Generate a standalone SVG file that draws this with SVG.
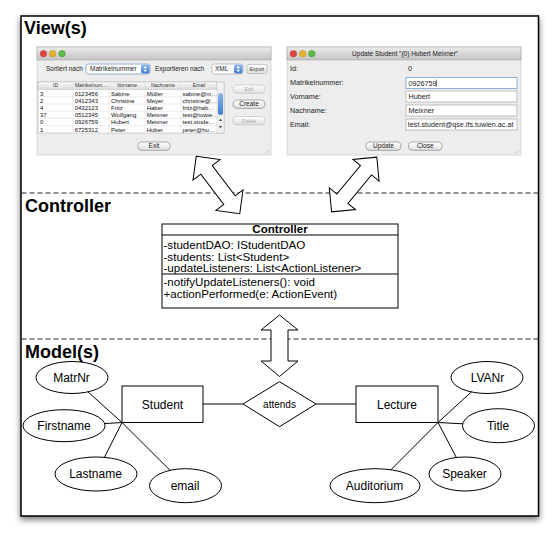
<svg xmlns="http://www.w3.org/2000/svg" width="558" height="540" viewBox="0 0 558 540">
<defs>
<filter id="sh" x="-5%" y="-5%" width="110%" height="112%">
<feGaussianBlur in="SourceAlpha" stdDeviation="3"/>
<feOffset dy="3"/>
<feComponentTransfer><feFuncA type="linear" slope="0.55"/></feComponentTransfer>
<feMerge><feMergeNode/><feMergeNode in="SourceGraphic"/></feMerge>
</filter>
<linearGradient id="tb" x1="0" y1="0" x2="0" y2="1"><stop offset="0" stop-color="#ebebeb"/><stop offset="1" stop-color="#c4c4c4"/></linearGradient>
<linearGradient id="btn" x1="0" y1="0" x2="0" y2="1"><stop offset="0" stop-color="#ffffff"/><stop offset="1" stop-color="#dedede"/></linearGradient>
<linearGradient id="hd" x1="0" y1="0" x2="0" y2="1"><stop offset="0" stop-color="#fafafa"/><stop offset="1" stop-color="#dcdcdc"/></linearGradient>
<linearGradient id="blue" x1="0" y1="0" x2="0" y2="1"><stop offset="0" stop-color="#8db7ef"/><stop offset="1" stop-color="#3f7ad0"/></linearGradient>
<style>
text { font-family: "Liberation Sans", Arial, Helvetica, sans-serif; fill: #000; }
.h { font-size: 18px; font-weight: bold; }
.ui { font-size: 6.5px; fill: #222; }
.ui7 { font-size: 7.2px; fill: #222; }
.sm { font-size: 5px; fill: #333; }
.cell { font-size: 6px; fill: #111; }
.dis { fill: #aaa; }
.win { fill: #ededed; stroke: #b8b8b8; stroke-width: 0.5; }
.bar { fill: url(#tb); stroke: #9a9a9a; stroke-width: 0.5; }
.pill { fill: url(#btn); stroke: #777; stroke-width: 0.6; }
.pilld { fill: url(#btn); stroke: #bbb; stroke-width: 0.6; }
.fld { fill: #fff; stroke: #9a9a9a; stroke-width: 0.6; }
.grid { stroke: #cfcfcf; stroke-width: 0.4; fill: none; }
.cls { font-size: 11.6px; }
.clsb { font-size: 11.6px; font-weight: bold; text-anchor: middle; }
.er { fill: #fff; stroke: #000; stroke-width: 1; }
.ert { font-size: 12px; text-anchor: middle; }
.ers { font-size: 10px; text-anchor: middle; }
.dash { stroke: #222; stroke-width: 1; stroke-dasharray: 5 3; fill: none; }
.arr { fill: #fff; stroke: #000; stroke-width: 1; stroke-linejoin: miter; }
.ln { stroke: #000; stroke-width: 1; fill: none; }
</style>
</defs>
<rect width="558" height="540" fill="#fff"/>
<rect x="21" y="16" width="517.5" height="500" fill="#fff" stroke="#000" stroke-width="1.5" filter="url(#sh)"/>

<text class="h" x="24" y="34">View(s)</text>
<text class="h" x="25" y="212">Controller</text>
<text class="h" x="25" y="358">Model(s)</text>

<line class="dash" x1="21.5" y1="193" x2="538" y2="193"/>
<line class="dash" x1="21.5" y1="339" x2="538" y2="339"/>

<!-- Left window: student list -->
<g id="view-list">
<rect class="win" x="37" y="47" width="234" height="108"/>
<rect class="bar" x="37" y="47" width="234" height="13"/>
<circle cx="43.5" cy="53.7" r="3.3" fill="#e0443e" stroke="#a33" stroke-width="0.4"/>
<circle cx="52.7" cy="53.7" r="3.3" fill="#e8b230" stroke="#a80" stroke-width="0.4"/>
<circle cx="62" cy="53.7" r="3.3" fill="#5fbb46" stroke="#383" stroke-width="0.4"/>
<text class="ui" x="46" y="71.3">Sortiert nach</text>
<rect x="86" y="64" width="64" height="10" rx="2.5" fill="#fff" stroke="#7c9cc8" stroke-width="0.8"/>
<text class="ui" x="90" y="71.3">Matrikelnummer</text>
<rect x="141" y="64.6" width="8.5" height="8.8" rx="2" fill="url(#blue)"/>
<polygon points="145.2,66 143.4,68.3 147,68.3" fill="#fff"/>
<polygon points="143.4,69.7 147,69.7 145.2,72" fill="#fff"/>
<text class="ui" x="155" y="71.3">Exportieren nach</text>
<rect x="212" y="64" width="31" height="10" rx="2.5" fill="#fff" stroke="#9a9a9a" stroke-width="0.6"/>
<text class="ui" x="215" y="71.3">XML</text>
<rect x="234" y="64.6" width="8.5" height="8.8" rx="2" fill="url(#blue)"/>
<polygon points="238.2,66 236.4,68.3 240,68.3" fill="#fff"/>
<polygon points="236.4,69.7 240,69.7 238.2,72" fill="#fff"/>
<rect x="247" y="64.5" width="20" height="9" rx="1.5" fill="url(#btn)" stroke="#999" stroke-width="0.5"/>
<text class="sm" x="257" y="70.8" text-anchor="middle">Export</text>
<!-- table -->
<rect x="38" y="82" width="186" height="51" fill="#fff" stroke="#a8a8a8" stroke-width="0.5"/>
<rect x="38" y="82" width="179" height="7.3" fill="url(#hd)" stroke="#a8a8a8" stroke-width="0.4"/>
<path class="grid" d="M73 82V133M109 82V133M145 82V133M181 82V133M38 96.6H217M38 103.9H217M38 111.2H217M38 118.4H217M38 125.7H217"/>
<text class="sm" x="55.5" y="87.4" text-anchor="middle">ID</text>
<text class="sm" x="91" y="87.4" text-anchor="middle">Matrikelnum…</text>
<text class="sm" x="127" y="87.4" text-anchor="middle">Vorname</text>
<text class="sm" x="163" y="87.4" text-anchor="middle">Nachname</text>
<text class="sm" x="199" y="87.4" text-anchor="middle">Email</text>
<text class="cell" x="40" y="95.5">3</text><text class="cell" x="74.7" y="95.5">0123456</text><text class="cell" x="111" y="95.5">Sabine</text><text class="cell" x="146.7" y="95.5">Müller</text><text class="cell" x="182.5" y="95.5">sabine@m…</text>
<text class="cell" x="40" y="102.7">2</text><text class="cell" x="74.7" y="102.7">0412343</text><text class="cell" x="111" y="102.7">Christine</text><text class="cell" x="146.7" y="102.7">Meyer</text><text class="cell" x="182.5" y="102.7">christine@…</text>
<text class="cell" x="40" y="109.9">4</text><text class="cell" x="74.7" y="109.9">0432123</text><text class="cell" x="111" y="109.9">Fritz</text><text class="cell" x="146.7" y="109.9">Haber</text><text class="cell" x="182.5" y="109.9">fritz@hab…</text>
<text class="cell" x="40" y="117.1">37</text><text class="cell" x="74.7" y="117.1">0512345</text><text class="cell" x="111" y="117.1">Wolfgang</text><text class="cell" x="146.7" y="117.1">Meixner</text><text class="cell" x="182.5" y="117.1">test@tuwie…</text>
<text class="cell" x="40" y="124.3">0</text><text class="cell" x="74.7" y="124.3">0926759</text><text class="cell" x="111" y="124.3">Hubert</text><text class="cell" x="146.7" y="124.3">Meixner</text><text class="cell" x="182.5" y="124.3">test.stude…</text>
<text class="cell" x="40" y="131.5">1</text><text class="cell" x="74.7" y="131.5">6725312</text><text class="cell" x="111" y="131.5">Peter</text><text class="cell" x="146.7" y="131.5">Huber</text><text class="cell" x="182.5" y="131.5">peter@hu…</text>
<rect x="217" y="82" width="7" height="51" fill="#f2f2f2" stroke="#b0b0b0" stroke-width="0.4"/>
<rect x="218" y="93" width="5" height="22" rx="2.5" fill="url(#blue)"/>
<polygon points="220.5,118.5 218.8,121 222.2,121" fill="#555"/>
<polygon points="218.8,126 222.2,126 220.5,128.5" fill="#555"/>
<!-- buttons -->
<rect class="pilld" x="233" y="85" width="32" height="8.3" rx="4.1"/>
<text class="sm dis" x="249" y="91" text-anchor="middle">Edit</text>
<rect class="pill" x="233" y="100" width="32" height="8.3" rx="4.1"/>
<text class="ui" x="249" y="106.4" text-anchor="middle">Create</text>
<rect class="pilld" x="233" y="116.5" width="32" height="8.3" rx="4.1"/>
<text class="sm dis" x="249" y="122.5" text-anchor="middle">Delete</text>
<rect class="pill" x="138" y="142" width="32" height="8.3" rx="4.1"/>
<text class="ui" x="154" y="148.4" text-anchor="middle">Exit</text>
<path d="M265 153.5L269 149.5M267 153.5L269 151.5" stroke="#aaa" stroke-width="0.5"/>
</g>

<!-- Right window: update student -->
<g id="view-update">
<rect class="win" x="287" y="47" width="234" height="108"/>
<rect class="bar" x="287" y="47" width="234" height="13"/>
<circle cx="293.4" cy="53.7" r="3.3" fill="#e0443e" stroke="#a33" stroke-width="0.4"/>
<circle cx="302.7" cy="53.7" r="3.3" fill="#e8b230" stroke="#a80" stroke-width="0.4"/>
<circle cx="311.8" cy="53.7" r="3.3" fill="#5fbb46" stroke="#383" stroke-width="0.4"/>
<text class="ui" x="405" y="56" text-anchor="middle">Update Student "(0) Hubert Meixner"</text>
<text class="ui7" x="290" y="70.8">Id:</text>
<text class="ui7" x="408" y="70.8">0</text>
<text class="ui7" x="290" y="84.8">Matrikelnummer:</text>
<text class="ui7" x="290" y="98.6">Vorname:</text>
<text class="ui7" x="290" y="112.8">Nachname:</text>
<text class="ui7" x="290" y="126.8">Email:</text>
<rect x="406" y="77.5" width="111" height="11" fill="#fff" stroke="#8fb0d8" stroke-width="1"/>
<rect class="fld" x="406" y="91" width="111" height="11"/>
<rect class="fld" x="406" y="105" width="111" height="11"/>
<rect class="fld" x="406" y="119" width="111" height="11"/>
<text class="ui7" x="408.5" y="85.6">0926759</text>
<line x1="436.5" y1="79.5" x2="436.5" y2="86.8" stroke="#000" stroke-width="0.5"/>
<text class="ui7" x="408.5" y="99.3">Hubert</text>
<text class="ui7" x="408.5" y="113.3">Meixner</text>
<text class="ui7" x="407.8" y="127.3">test.student@qse.ifs.tuwien.ac.at</text>
<rect class="pill" x="366" y="142" width="35" height="8.3" rx="4.1"/>
<text class="ui" x="383.5" y="148.4" text-anchor="middle">Update</text>
<rect class="pill" x="408.5" y="142" width="33.5" height="8.3" rx="4.1"/>
<text class="ui" x="425.2" y="148.4" text-anchor="middle">Close</text>
<path d="M515 153.5L519 149.5M517 153.5L519 151.5" stroke="#aaa" stroke-width="0.5"/>
</g>

<!-- Connectors -->
<g id="connectors">
<path class="arr" transform="translate(218,185) rotate(52.8)" d="M-36 0L-19 -17L-19 -7.2L19 -7.2L19 -17L36 0L19 17L19 7.2L-19 7.2L-19 17Z"/>
<path class="arr" transform="translate(354.2,184.5) rotate(129.6)" d="M-35.5 0L-18.5 -17L-18.5 -7.2L18.5 -7.2L18.5 -17L35.5 0L18.5 17L18.5 7.2L-18.5 7.2L-18.5 17Z"/>
<path class="arr" d="M279.5 315L298 330L288 330L288 361L298 361L279.5 376.5L261 361L271 361L271 330L261 330Z"/>
<line class="ln" x1="203" y1="404" x2="243" y2="404"/>
<line class="ln" x1="316" y1="404" x2="356" y2="404"/>
<line class="ln" x1="122" y1="422.5" x2="72" y2="377.5"/>
<line class="ln" x1="122" y1="422.5" x2="64" y2="426"/>
<line class="ln" x1="122" y1="422.5" x2="96" y2="474"/>
<line class="ln" x1="122" y1="422.5" x2="185.5" y2="485.7"/>
<line class="ln" x1="438" y1="422.5" x2="487" y2="377.5"/>
<line class="ln" x1="438" y1="422.5" x2="498.5" y2="425.7"/>
<line class="ln" x1="438" y1="422.5" x2="465" y2="474"/>
<line class="ln" x1="438" y1="422.5" x2="375" y2="485.7"/>
</g>

<!-- Controller class -->
<g id="controller">
<rect x="162" y="224" width="236" height="84" fill="#fff" stroke="#000" stroke-width="1"/>
<line class="ln" x1="162" y1="235" x2="398" y2="235"/>
<line class="ln" x1="162" y1="274" x2="398" y2="274"/>
<text class="clsb" x="280" y="233.3">Controller</text>
<text class="cls" x="163.5" y="248.5">-studentDAO: IStudentDAO</text>
<text class="cls" x="163.5" y="260.5">-students: List&lt;Student&gt;</text>
<text class="cls" x="163.5" y="272.3">-updateListeners: List&lt;ActionListener&gt;</text>
<text class="cls" x="163.5" y="286.3">-notifyUpdateListeners(): void</text>
<text class="cls" x="163.5" y="298.3">+actionPerformed(e: ActionEvent)</text>
</g>

<!-- ER model -->
<g id="student"><rect class="er" x="122" y="386" width="81" height="36.5"/><text class="ert" x="162.5" y="408.5">Student</text></g>
<g id="attends"><polygon class="er" points="243,404 279.5,381.7 316,404 279.5,426.7"/><text class="ers" x="279.5" y="407.5">attends</text></g>
<g id="lecture"><rect class="er" x="356" y="386" width="82" height="36.5"/><text class="ert" x="397" y="408.5">Lecture</text></g>
<g id="matrnr"><ellipse class="er" cx="72" cy="377.5" rx="36" ry="16"/><text class="ert" x="71.5" y="381.8">MatrNr</text></g>
<g id="firstname"><ellipse class="er" cx="64" cy="425.7" rx="41" ry="16"/><text class="ert" x="64" y="430">Firstname</text></g>
<g id="lastname"><ellipse class="er" cx="96" cy="474" rx="41" ry="17"/><text class="ert" x="95.5" y="478.3">Lastname</text></g>
<g id="email"><ellipse class="er" cx="185.5" cy="485.7" rx="36" ry="17"/><text class="ert" x="185" y="490">email</text></g>
<g id="lvanr"><ellipse class="er" cx="487" cy="377.5" rx="36" ry="16"/><text class="ert" x="487.5" y="381.8">LVANr</text></g>
<g id="title"><ellipse class="er" cx="498.5" cy="425.7" rx="36" ry="17"/><text class="ert" x="498" y="430">Title</text></g>
<g id="speaker"><ellipse class="er" cx="465" cy="474" rx="36" ry="17"/><text class="ert" x="464.5" y="478.3">Speaker</text></g>
<g id="auditorium"><ellipse class="er" cx="375" cy="485.7" rx="45" ry="17"/><text class="ert" x="374.5" y="490">Auditorium</text></g>
</svg>
